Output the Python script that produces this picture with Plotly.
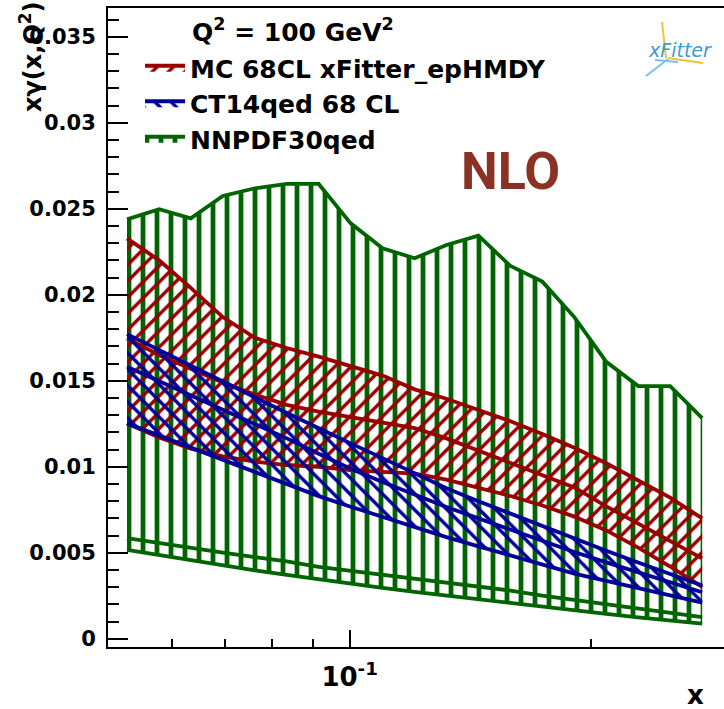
import math
import plotly.graph_objects as go

# x grid of the photon PDF evaluation
x_grid = [0.0528, 0.0579, 0.0634, 0.0695, 0.0762, 0.0835, 0.0915, 0.1003, 0.1099, 0.1205,
          0.1320, 0.1447, 0.1586, 0.1738, 0.1905, 0.2088, 0.2288, 0.2508, 0.2749]

# NNPDF30qed: upper edge, central value, lower edge
nnpdf_up = [0.02438, 0.02497, 0.02444, 0.02574, 0.02619, 0.02644, 0.02644, 0.02415, 0.02270, 0.02212,
            0.02289, 0.02343, 0.02167, 0.02076, 0.01870, 0.01610, 0.01469, 0.01469, 0.01283]
nnpdf_mid = [0.00585, 0.00555, 0.00527, 0.00500, 0.00474, 0.00450, 0.00418, 0.00395, 0.00372, 0.00348,
             0.00325, 0.00302, 0.00280, 0.00250, 0.00225, 0.00200, 0.00175, 0.00150, 0.00125]
nnpdf_lo = [0.00516, 0.00485, 0.00455, 0.00425, 0.00398, 0.00372, 0.00345, 0.00320, 0.00296, 0.00272,
            0.00250, 0.00228, 0.00208, 0.00186, 0.00164, 0.00144, 0.00124, 0.00105, 0.00088]

# MC 68CL xFitter_epHMDY
mc_up = [0.02328, 0.02200, 0.02040, 0.01870, 0.01750, 0.01690, 0.01640, 0.01585, 0.01530, 0.01450,
         0.01395, 0.01330, 0.01265, 0.01190, 0.01110, 0.01020, 0.00920, 0.00820, 0.00700]
mc_mid = [0.01746, 0.01650, 0.01570, 0.01490, 0.01420, 0.01360, 0.01320, 0.01290, 0.01260, 0.01225,
          0.01165, 0.01095, 0.01025, 0.00955, 0.00880, 0.00770, 0.00670, 0.00570, 0.00467]
mc_lo = [0.01252, 0.01170, 0.01105, 0.01060, 0.01030, 0.01010, 0.01000, 0.00980, 0.00970, 0.00960,
         0.00925, 0.00880, 0.00830, 0.00775, 0.00710, 0.00630, 0.00530, 0.00420, 0.00302]

# CT14qed 68 CL
ct14_up = [0.01771, 0.01680, 0.01588, 0.01496, 0.01404, 0.01312, 0.01222, 0.01136, 0.01050, 0.00962,
           0.00875, 0.00800, 0.00728, 0.00654, 0.00580, 0.00511, 0.00443, 0.00375, 0.00310]
ct14_mid = [0.01581, 0.01498, 0.01414, 0.01331, 0.01247, 0.01165, 0.01076, 0.00988, 0.00911, 0.00838,
            0.00766, 0.00700, 0.00634, 0.00567, 0.00504, 0.00444, 0.00385, 0.00326, 0.00270]
ct14_lo = [0.01252, 0.01181, 0.01110, 0.01038, 0.00967, 0.00896, 0.00829, 0.00767, 0.00708, 0.00650,
           0.00591, 0.00537, 0.00484, 0.00430, 0.00379, 0.00337, 0.00295, 0.00252, 0.00210]

y_ticks = [0, 0.005, 0.01, 0.015, 0.02, 0.025, 0.03, 0.035]
y_ticktext = ["0", "0.005", "0.01", "0.015", "0.02", "0.025", "0.03", "0.035"]

GREEN = "#006400"
RED = "#990000"
BLUE = "#000099"
FONT = "DejaVu Sans"

fig = go.Figure()


def add_band(lo, mid, up, color, shape, size, solidity, name, rank):
    fig.add_trace(go.Scatter(x=x_grid, y=lo, mode="lines", line=dict(color=color, width=3.8),
                             showlegend=False, hoverinfo="skip"))
    fig.add_trace(go.Scatter(x=x_grid, y=up, mode="lines", line=dict(color=color, width=3.8),
                             fill="tonexty", fillcolor="rgba(0,0,0,0)",
                             fillpattern=dict(shape=shape, fgcolor=color, fgopacity=1,
                                              size=size, solidity=solidity),
                             name=name, legendrank=rank))
    fig.add_trace(go.Scatter(x=x_grid, y=mid, mode="lines", line=dict(color=color, width=3.8),
                             showlegend=False, hoverinfo="skip"))


add_band(nnpdf_lo, nnpdf_mid, nnpdf_up, GREEN, "|", 14, 0.34, "NNPDF30qed", 3)
add_band(mc_lo, mc_mid, mc_up, RED, "/", 11.5, 0.3, "MC 68CL xFitter_epHMDY", 1)
add_band(ct14_lo, ct14_mid, ct14_up, BLUE, "\\", 11.5, 0.3, "CT14qed 68 CL", 2)

L, R, T, B = 108, 0, 8, 62
W, H = 724, 709
pw, ph = W - L - R, H - T - B


def px(xp):
    return (xp - L) / pw


def py(yp):
    return (H - B - yp) / ph


fig.update_layout(
    width=W, height=H,
    margin=dict(l=L, r=R, t=T, b=B),
    paper_bgcolor="white", plot_bgcolor="white",
    font=dict(family=FONT, color="black"),
    xaxis=dict(type="log", range=[math.log10(0.05), math.log10(0.29266)],
               showgrid=False, zeroline=False, showline=True, linecolor="black",
               linewidth=2, mirror=True, ticks="inside", ticklen=17, tickwidth=2,
               tickcolor="black", tickvals=[0.1], ticktext=["10<sup>-1</sup>"],
               tickfont=dict(size=26, weight="bold", family=FONT), ticklabelstandoff=6,
               minor=dict(tickmode="array", tickvals=[0.06, 0.07, 0.08, 0.09, 0.2],
                          ticks="inside", ticklen=8, tickwidth=2, tickcolor="black")),
    yaxis=dict(range=[-0.00048, 0.03667], showgrid=False, zeroline=False, showline=True,
               linecolor="black", linewidth=2, ticks="inside", ticklen=20, tickwidth=2,
               tickcolor="black", tickvals=y_ticks, ticktext=y_ticktext,
               tickfont=dict(size=21, weight="bold", family=FONT), ticklabelstandoff=6,
               minor=dict(tickmode="linear", tick0=0, dtick=0.001, ticks="inside",
                          ticklen=11, tickwidth=2, tickcolor="black")),
    legend=dict(x=px(140), y=py(45), xanchor="left", yanchor="top", traceorder="normal",
                bgcolor="rgba(0,0,0,0)", borderwidth=0, itemwidth=40,
                font=dict(size=25, weight="bold", family=FONT)),
    showlegend=True,
)

annotations = [
    dict(text="Q<sup>2</sup> = 100 GeV<sup>2</sup>", x=px(190), y=py(30), xanchor="left",
         yanchor="middle", font=dict(size=25, weight="bold", family=FONT)),
    dict(text="NLO", x=px(510), y=py(171), xanchor="center", yanchor="middle",
         font=dict(size=52, weight="bold", family="Roboto", color="#8a3324")),
    dict(text="x", x=px(695), y=py(695), xanchor="center", yanchor="middle",
         font=dict(size=26, weight="bold", family=FONT)),
    dict(text="x\u03b3(x,Q<sup>2</sup>)", x=px(31), y=py(57), xanchor="center",
         yanchor="middle", textangle=-90, font=dict(size=24, weight="bold", family=FONT)),
    dict(text="xFitter", x=px(680), y=py(50), xanchor="center", yanchor="middle",
         font=dict(size=19, style="italic", family="DejaVu Sans", color="#3a9ad9")),
]
for a in annotations:
    a.update(xref="paper", yref="paper", showarrow=False)
fig.update_layout(annotations=annotations)

# small decorative strokes of the xFitter logo
logo = [
    ((662, 22), (666, 58), "#f2c230"),
    ((668, 58), (703, 63), "#f2c230"),
    ((646, 76), (668, 59), "#7cc0ea"),
    ((655, 60), (678, 62), "#7cc0ea"),
]
for (x0, y0), (x1, y1), c in logo:
    fig.add_shape(type="line", xref="paper", yref="paper", x0=px(x0), y0=py(y0),
                  x1=px(x1), y1=py(y1), line=dict(color=c, width=2))

fig.write_html("out.html")
